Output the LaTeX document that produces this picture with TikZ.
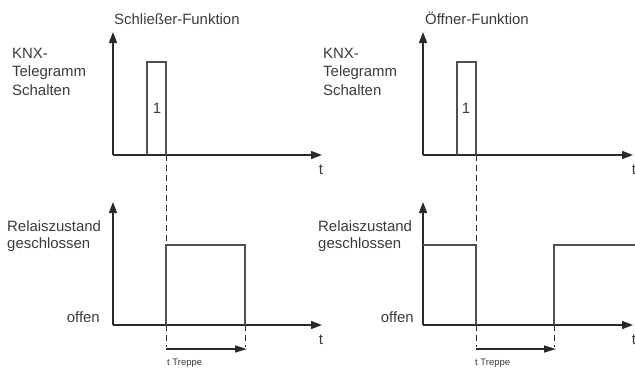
\documentclass[tikz,border=0pt]{standalone}
\usepackage{fontspec}
\setmainfont{Liberation Sans}
\usepackage{xcolor}
\usepackage{tikz}
\usetikzlibrary{calc}
\usetikzlibrary{arrows.meta}

\definecolor{ink}{HTML}{2A2A2A}
\definecolor{sig}{HTML}{505050}
\definecolor{txt}{HTML}{3A3A3A}

\tikzset{
	axis/.style={line width=1.6bp, ink, -{Triangle[length=11bp,width=8bp]}},
	signal/.style={line width=1.1bp, sig},
	guide/.style={line width=1bp, ink, dash pattern=on 6bp off 4bp},
	span/.style={line width=1.3bp, ink, -{Triangle[length=12bp,width=7bp]}},
	lbl/.style={font=\fontsize{15}{18}\selectfont, text=txt, inner sep=0pt, anchor=base west},
	small/.style={font=\fontsize{9.5}{11}\selectfont, text=txt, inner sep=0pt, anchor=base west},
}

\begin{document}
\begin{tikzpicture}[x=1bp, y=-1bp]
			\useasboundingbox (0, 0) rectangle (635, 367);

			% Schliesser-Funktion
			\coordinate (oSt) at (113, 155);
			\coordinate (oSb) at (113, 325);
			\draw[axis] (oSt)--(113, 32);
			\draw[axis] (oSt)--(322, 155);
			\draw[axis] (oSb)--(113, 202);
			\draw[axis] (oSb)--(322, 325);

			\draw[signal] (147, 155)--(147, 62)--(166, 62)--(166, 155);
			\draw[guide] (166, 155)--(166, 347);
			\draw[guide] (245, 325)--(245, 347);
			\draw[signal] (166, 325)--(166, 245)--(245, 245)--(245, 325);
			\draw[span] (166, 349)--(247, 349);

			\node[lbl] (titS) at (114, 24) {Schließer-Funktion};
			\node[lbl] (knxS) at (12, 58) {KNX-};
			\node[lbl] (telS) at (12, 76.5) {Telegramm};
			\node[lbl] (schS) at (12, 95) {Schalten};
			\node[lbl, anchor=base] (einS) at (157, 113) {1};
			\node[lbl, anchor=base] (tSt) at (321, 174) {t};
			\node[lbl] (relS) at (7, 231) {Relaiszustand};
			\node[lbl] (gesS) at (7, 248.5) {geschlossen};
			\node[lbl, anchor=base east] (offS) at (100, 322.5) {offen};
			\node[lbl, anchor=base] (tSb) at (321, 344) {t};
			\node[small] (trS) at (167, 365) {t Treppe};

			% Oeffner-Funktion
			\coordinate (oOt) at (423, 155);
			\coordinate (oOb) at (423, 325);
			\draw[axis] (oOt)--(423, 32);
			\draw[axis] (oOt)--(633, 155);
			\draw[axis] (oOb)--(423, 202);
			\draw[axis] (oOb)--(633, 325);

			\draw[signal] (457, 155)--(457, 62)--(476, 62)--(476, 155);
			\draw[guide] (476, 155)--(476, 347);
			\draw[guide] (554, 325)--(554, 347);
			\draw[signal] (423, 245)--(476, 245)--(476, 325);
			\draw[signal] (554, 325)--(554, 245)--(640, 245);
			\draw[span] (476, 349)--(556, 349);

			\node[lbl] (titO) at (425, 24) {Öffner-Funktion};
			\node[lbl] (knxO) at (323, 58) {KNX-};
			\node[lbl] (telO) at (323, 76.5) {Telegramm};
			\node[lbl] (schO) at (323, 95) {Schalten};
			\node[lbl, anchor=base] (einO) at (466, 113) {1};
			\node[lbl, anchor=base] (tOt) at (634, 174) {t};
			\node[lbl] (relO) at (318, 231) {Relaiszustand};
			\node[lbl] (gesO) at (318, 248.5) {geschlossen};
			\node[lbl, anchor=base east] (offO) at (414, 322.5) {offen};
			\node[lbl, anchor=base] (tOb) at (634, 344) {t};
			\node[small] (trO) at (475, 365) {t Treppe};
		\end{tikzpicture}
\end{document}
